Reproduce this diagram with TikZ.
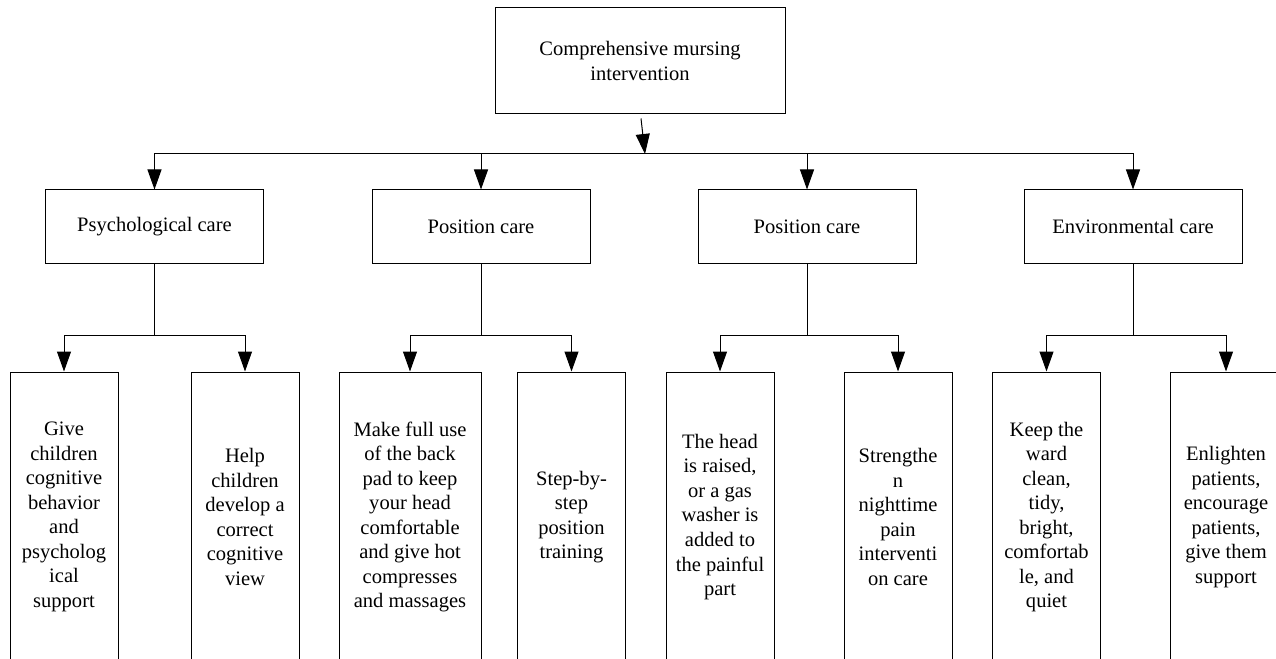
\documentclass[tikz,border=0pt]{standalone}
\usepackage{fontspec}
\setmainfont{Liberation Serif}
\usetikzlibrary{arrows.meta,positioning,calc}
\definecolor{ink}{HTML}{000000}
\tikzset{
  >={Triangle[length=15pt,width=10.5pt]},
  every node/.style={font=\fontsize{15.4}{18.4}\selectfont,text=ink},
  box/.style={draw=ink,line width=0.75pt,minimum width=163.5pt,minimum height=54.75pt,align=center,inner sep=2pt},
  topbox/.style={box,minimum width=217.5pt,minimum height=79.5pt},
  tallbox/.style={box,minimum width=81pt,minimum height=217.5pt},
  widebox/.style={tallbox,minimum width=106.5pt},
  arrow/.style={->,line width=0.75pt,draw=ink},
  link/.style={line width=0.75pt,draw=ink},
}

\begin{document}
\begin{tikzpicture}[x=0.75pt,y=-0.75pt]
\useasboundingbox (0,0) rectangle (1276,659);

% top
\node[topbox] (top) at (640,61) {Comprehensive mursing\\intervention};

% second level
\node[box] (psy) at (154.5,226.5) {Psychological care};
\node[box] (posa) at (481,226.5) {Position care};
\node[box] (posb) at (807,226.5) {Position care};
\node[box] (env) at (1133,226.5) {Environmental care};

% third level (boxes run off the bottom edge)
\node[tallbox] (psya) at (64,517) {Give\\children\\cognitive\\behavior\\and\\psycholog\\ical\\support};
\node[tallbox] (psyb) at (245,517) {Help\\children\\develop a\\correct\\cognitive\\view};
\node[widebox] (posaa) at (410,517) {Make full use\\of the back\\pad to keep\\your head\\comfortable\\and give hot\\compresses\\and massages};
\node[tallbox] (posab) at (571.5,517) {Step-by-\\step\\position\\training};
\node[tallbox] (posba) at (720,517) {The head\\is raised,\\or a gas\\washer is\\added to\\the painful\\part};
\node[tallbox] (posbb) at (898,517) {Strengthe\\n\\nighttime\\pain\\interventi\\on care};
\node[tallbox] (enva) at (1046.5,517) {Keep the\\ward\\clean,\\tidy,\\bright,\\comfortab\\le, and\\quiet};
\node[tallbox,minimum width=84pt] (envb) at (1226,517) {Enlighten\\patients,\\encourage\\patients,\\give them\\support};

% bus
\coordinate (bus) at (645,154);
\coordinate (fork) at (0,335);
\draw[arrow] ([xshift=0.75pt,yshift=-3pt]top.south) -- (bus);
\foreach \n in {psy,posa,posb,env}
  \draw[arrow] (bus) -| (\n.north);

% forks
\foreach \p/\a/\b in {psy/psya/psyb,posa/posaa/posab,posb/posba/posbb,env/enva/envb}{
  \draw[link] (\p.south) -- (\p.south |- fork);
  \draw[arrow] (\p.south |- fork) -| (\a.north);
  \draw[arrow] (\p.south |- fork) -| (\b.north);
}

\end{tikzpicture}
\end{document}
